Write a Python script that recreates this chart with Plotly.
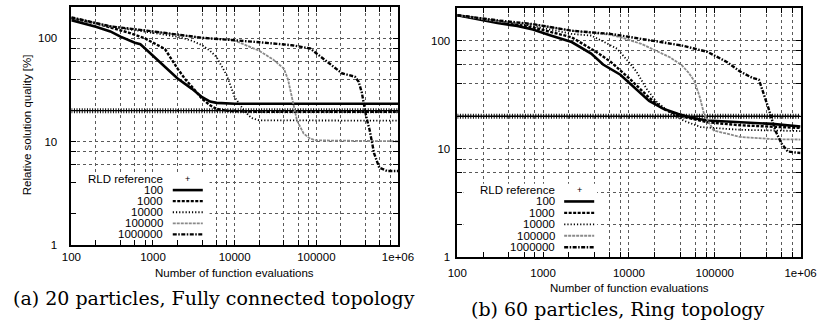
import math
import plotly.graph_objects as go

W, H = 834, 333

# ---------------- data ----------------
decade_vals = [100, 1000, 10000, 100000, 1000000]
decade_text = ["100", "1000", "10000", "100000", "1e+06"]
y_decade_vals = [1, 10, 100]
y_decade_text = ["1", "10", "100"]
grid_mult = [2, 4, 6, 8]

rld_x = [100, 1000000]
rld_y = [20, 20]

series_names = ["100", "1000", "10000", "100000", "1000000"]

# (a) 20 particles, fully connected
a100_x = [100, 200, 300, 400, 600, 700, 800, 1000, 1500, 2000, 3000, 4000, 5000, 6000, 10000, 100000, 1000000]
a100_y = [150, 130, 117, 104, 91, 88, 80, 68, 51, 41, 32.5, 27, 24.5, 23.8, 23.3, 23.3, 23.3]
a1000_x = [100, 200, 300, 500, 800, 1400, 2000, 2500, 3000, 4000, 5000, 6000, 8000, 10000, 20000, 1000000]
a1000_y = [157, 140, 128, 114, 100, 79, 51, 40, 34, 26, 22.5, 20.8, 20, 19.7, 19.5, 19.5]
a10000_x = [100, 300, 1000, 2000, 3000, 4000, 5000, 6000, 8000, 10000, 13000, 16000, 20000, 1000000]
a10000_y = [157, 131, 113, 104, 95, 86, 76, 66, 44, 27, 20, 17, 16.1, 16.0]
a100000_x = [100, 300, 1000, 4000, 9500, 14000, 20000, 30000, 40000, 45000, 50000, 53000, 58000, 70000, 84000, 100000, 1000000]
a100000_y = [160, 131, 117, 101, 97, 86, 76, 62, 51, 40, 28, 23, 16, 12, 10.7, 10.3, 10.1]
a1e6_x = [100, 300, 1000, 4000, 20000, 50000, 84000, 206000, 297000, 330000, 360000, 390000, 410000, 450000, 510000, 590000, 740000, 1000000]
a1e6_y = [160, 131, 117, 101.5, 92, 86, 80, 46, 42.6, 38, 30, 21.4, 17.2, 12.9, 7.7, 5.6, 5.2, 5.2]

# (b) 60 particles, ring
b100_x = [100, 150, 293, 500, 760, 1200, 2150, 3630, 5000, 7950, 12000, 17200, 25000, 37700, 55000, 82500, 200000, 467000, 1000000]
b100_y = [171, 160, 145, 136, 126, 112, 96.7, 75.8, 60, 48.3, 36, 27.7, 23.5, 21, 19.3, 18.3, 17.6, 17, 16.1]
b1000_x = [100, 300, 760, 2150, 4000, 6100, 10000, 17200, 25000, 37700, 82500, 200000, 1000000]
b1000_y = [171, 150, 132, 107, 80, 63.8, 45, 29.7, 23.5, 20.3, 17.6, 16.5, 15.6]
b10000_x = [100, 300, 760, 2150, 3630, 5000, 7260, 10000, 12200, 16000, 20500, 31500, 45000, 69000, 197000, 1000000]
b10000_y = [171, 150, 136, 115, 111, 98, 84, 63, 51.8, 36, 27.7, 21, 18, 15.9, 15, 14.6]
b100000_x = [100, 300, 760, 2150, 6100, 8630, 14000, 20500, 30000, 41100, 50000, 58000, 67000, 75000, 97000, 197000, 467000, 1000000]
b100000_y = [171, 150, 141.6, 123, 113, 105, 93, 81, 70, 59.4, 50, 42, 30, 21, 14.8, 12.9, 12.3, 12.2]
b1e6_x = [100, 300, 760, 2150, 6100, 22400, 41100, 82500, 140000, 197000, 277000, 327000, 370000, 420000, 507000, 600000, 710000, 1000000]
b1e6_y = [171, 153, 141.6, 123, 115, 98, 90, 78.5, 63, 51.8, 45, 43.5, 33, 24.1, 14.8, 11.2, 9.45, 9.15]

panel_a = [(a100_x, a100_y), (a1000_x, a1000_y), (a10000_x, a10000_y), (a100000_x, a100000_y), (a1e6_x, a1e6_y)]
panel_b = [(b100_x, b100_y), (b1000_x, b1000_y), (b10000_x, b10000_y), (b100000_x, b100000_y), (b1e6_x, b1e6_y)]

caption_a = "(a) 20 particles, Fully connected topology"
caption_b = "(b) 60 particles, Ring topology"
x_title = "Number of function evaluations"
y_title = "Relative solution quality [%]"
rld_name = "RLD reference"

# ---------------- styles ----------------
SANS = "Liberation Sans, Arial, sans-serif"
SERIF = "DejaVu Serif, serif"
styles = [
    dict(color="black", width=2.6),
    dict(color="black", width=2.4, dash="3px,1.5px"),
    dict(color="black", width=1.8, dash="1.2px,2px"),
    dict(color="#8a8a8a", width=1.8, dash="3px,1px"),
    dict(color="black", width=2.4, dash="4px,1.5px,1.5px,1.5px"),
]

def px(x):
    return x / W

def py(y):
    return 1 - y / H

fig = go.Figure()

for (xa, ya), panel in (("x", "y"), panel_a), (("x2", "y2"), panel_b):
    fig.add_trace(go.Scatter(x=rld_x, y=rld_y, mode="lines", xaxis=xa, yaxis=ya,
                             line=dict(color="black", width=1.3), showlegend=False, hoverinfo="skip"))
    fig.add_trace(go.Scatter(x=rld_x, y=rld_y, mode="lines", xaxis=xa, yaxis=ya,
                             line=dict(color="black", width=5, dash="1px,1.6px"), showlegend=False, hoverinfo="skip"))
    for (sx, sy), st in zip(panel, styles):
        fig.add_trace(go.Scatter(x=sx, y=sy, mode="lines", xaxis=xa, yaxis=ya, line=st,
                                 showlegend=False, hoverinfo="skip"))

x_tickvals = []
x_ticktext = []
for d, t in zip(decade_vals, decade_text):
    x_tickvals.append(d)
    x_ticktext.append(t)
    if d < decade_vals[-1]:
        for m in grid_mult:
            x_tickvals.append(d * m)
            x_ticktext.append("")
y_tickvals = []
y_ticktext = []
for d, t in zip(y_decade_vals, y_decade_text):
    y_tickvals.append(d)
    y_ticktext.append(t)
    for m in grid_mult:
        if d * m < 200:
            y_tickvals.append(d * m)
            y_ticktext.append("")

common = dict(type="log", tickmode="array", ticks="inside", ticklen=5, tickwidth=1, tickcolor="black",
              showline=True, linecolor="black", linewidth=1.6, mirror="allticks",
              showgrid=True, gridcolor="#5a5a5a", griddash="dot", gridwidth=0.8,
              zeroline=False, tickfont=dict(family=SANS, size=11.5, color="black"))

fig.update_layout(
    width=W, height=H, margin=dict(l=0, r=0, t=0, b=0),
    paper_bgcolor="white", plot_bgcolor="white", showlegend=False,
    xaxis=dict(domain=[px(63.3), px(400.5)], range=[2, 6], tickvals=x_tickvals, ticktext=x_ticktext,
               anchor="y", **common),
    yaxis=dict(domain=[py(249.5), py(7.5)], range=[0, math.log10(200)], tickvals=y_tickvals,
               ticktext=y_ticktext, anchor="x", ticklabelstandoff=10, **common),
    xaxis2=dict(domain=[px(461.7), px(816)], range=[2, 6], tickvals=x_tickvals, ticktext=x_ticktext,
                anchor="y2", ticklabelstandoff=4, **common),
    yaxis2=dict(domain=[py(262), py(8)], range=[0, math.log10(200)], tickvals=y_tickvals,
                ticktext=y_ticktext, anchor="x2", ticklabelstandoff=3, **common),
)

shapes = []
annotations = []

# manual gnuplot-style keys
legends = [
    dict(box=(69, 176, 206, 243.5), text_right=160, s0=168, s1=199, y0=182.3, dy=11.28),
    dict(box=(468, 187, 606, 256), text_right=565, s0=572, s1=603, y0=193.5, dy=11.65),
]
for lg in legends:
    bx0, by0, bx1, by1 = lg["box"]
    shapes.append(dict(type="rect", xref="paper", yref="paper", x0=px(bx0), x1=px(bx1), y0=py(by1), y1=py(by0),
                       fillcolor="white", line=dict(width=0), layer="above"))
    labels = [rld_name] + series_names
    for i, lab in enumerate(labels):
        yy = lg["y0"] + i * lg["dy"]
        annotations.append(dict(text=lab, xref="paper", yref="paper", x=px(lg["text_right"]), y=py(yy),
                                xanchor="right", yanchor="middle", showarrow=False,
                                font=dict(family=SANS, size=11.5, color="black")))
        if i == 0:
            annotations.append(dict(text="+", xref="paper", yref="paper", x=px((lg["s0"] + lg["s1"]) / 2), y=py(yy),
                                    xanchor="center", yanchor="middle", showarrow=False,
                                    font=dict(family=SANS, size=9, color="black")))
        else:
            shapes.append(dict(type="line", xref="paper", yref="paper", x0=px(lg["s0"]), x1=px(lg["s1"]),
                               y0=py(yy), y1=py(yy), line=styles[i - 1], layer="above"))

annotations += [
    dict(text=y_title, xref="paper", yref="paper", x=px(17), y=py(127), textangle=-90, showarrow=False,
         xanchor="center", yanchor="middle", font=dict(family=SANS, size=11.5, color="black")),
    dict(text=x_title, xref="paper", yref="paper", x=px(232), y=py(278), showarrow=False,
         xanchor="center", yanchor="middle", font=dict(family=SANS, size=11.5, color="black")),
    dict(text=x_title, xref="paper", yref="paper", x=px(639), y=py(293.5), showarrow=False,
         xanchor="center", yanchor="middle", font=dict(family=SANS, size=11.5, color="black")),
    dict(text=caption_a, xref="paper", yref="paper", x=px(211), y=py(303), showarrow=False,
         xanchor="center", yanchor="middle", font=dict(family=SERIF, size=19, color="black")),
    dict(text=caption_b, xref="paper", yref="paper", x=px(627.5), y=py(315), showarrow=False,
         xanchor="center", yanchor="middle", font=dict(family=SERIF, size=19, color="black")),
]

fig.update_layout(shapes=shapes, annotations=annotations)
fig.write_html("out.html")
